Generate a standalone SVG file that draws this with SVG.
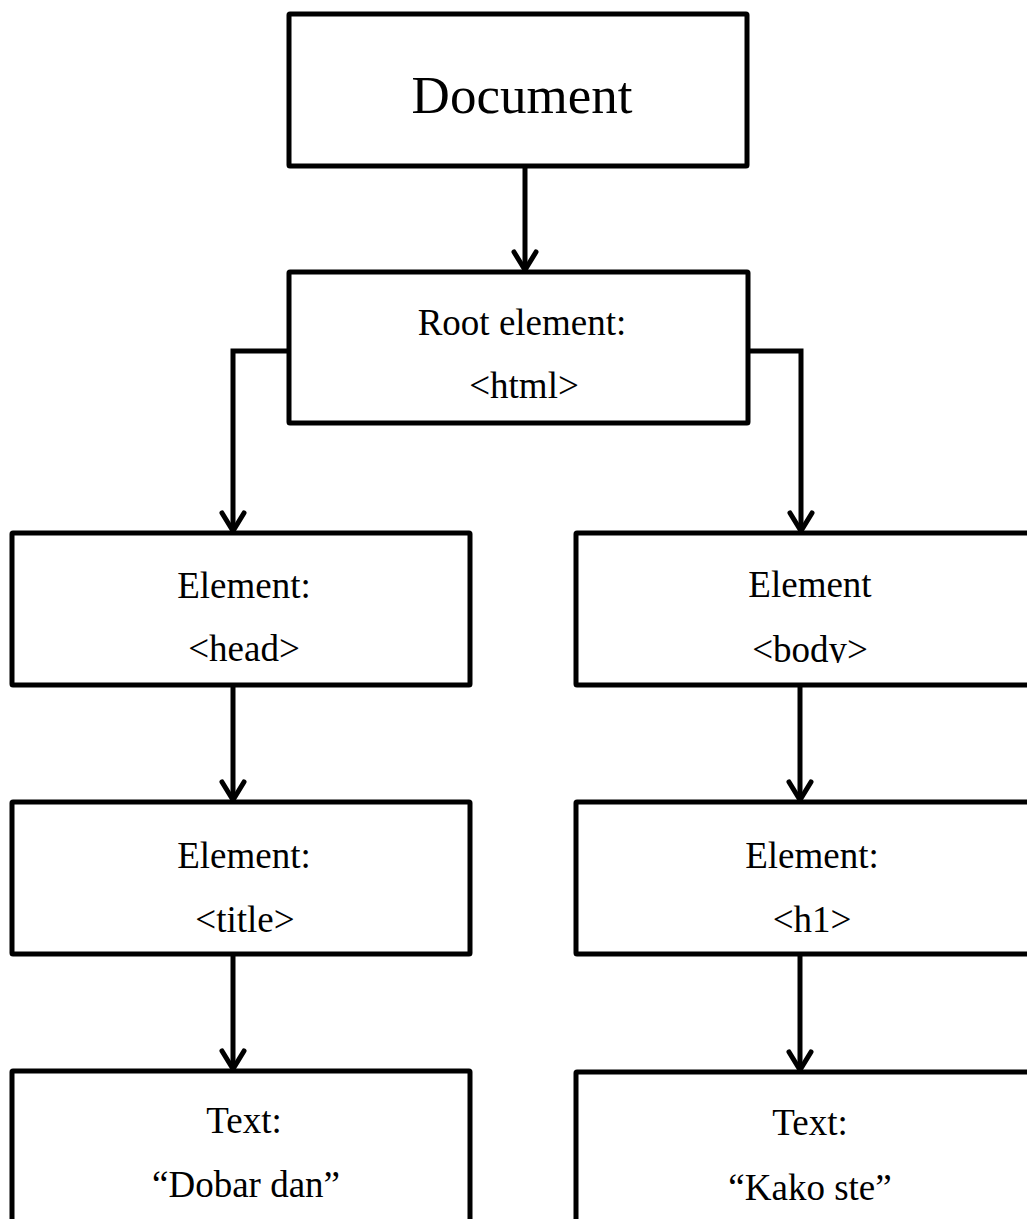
<svg xmlns="http://www.w3.org/2000/svg" width="1027" height="1219" viewBox="0 0 1027 1219">
  <style>
    .box { fill: #ffffff; stroke: #000000; stroke-width: 5; stroke-linejoin: round; }
    .lbl { font-family: "Liberation Serif", "Times New Roman", serif; font-size: 37px; fill: #000000; text-anchor: middle; }
    .big { font-size: 53px; }
    .conn { fill: none; stroke: #000000; stroke-width: 5; stroke-linejoin: miter; marker-end: url(#arr); }
  </style>
  <defs>
    <marker id="arr" markerUnits="userSpaceOnUse" viewBox="-22 -14 26 28" markerWidth="26" markerHeight="28" refX="0" refY="0" orient="auto" overflow="visible">
      <path d="M -18 -11 L 0 0 L -18 11" fill="none" stroke="#000000" stroke-width="5" stroke-linejoin="round" stroke-linecap="round"/>
    </marker>
    <clipPath id="bodyClip">
      <rect x="577" y="535" width="450" height="128"/>
    </clipPath>
  </defs>
  <rect width="1027" height="1219" fill="#ffffff"/>

  <g id="connectors">
    <path class="conn" d="M 525 166 L 525 270"/>
    <path class="conn" d="M 289 351 H 233 V 531"/>
    <path class="conn" d="M 748 351 H 801 V 531"/>
    <path class="conn" d="M 233 685 V 800"/>
    <path class="conn" d="M 800 685 V 800"/>
    <path class="conn" d="M 233 954 V 1069"/>
    <path class="conn" d="M 800 954 V 1070"/>
  </g>

  <g id="document">
    <rect class="box" x="289" y="14" width="458" height="152" rx="1"/>
    <text class="lbl big" x="522" y="113">Document</text>
  </g>

  <g id="root">
    <rect class="box" x="289" y="272" width="459" height="151" rx="1"/>
    <text class="lbl" x="522" y="335">Root element:</text>
    <text class="lbl" x="524" y="398">&lt;html&gt;</text>
  </g>

  <g id="head">
    <rect class="box" x="12" y="533" width="458" height="152" rx="1"/>
    <text class="lbl" x="244" y="598">Element:</text>
    <text class="lbl" x="244" y="661">&lt;head&gt;</text>
  </g>

  <g id="body">
    <rect class="box" x="576" y="533" width="462" height="152" rx="1"/>
    <text class="lbl" x="810" y="597">Element</text>
    <text class="lbl" x="810" y="662" clip-path="url(#bodyClip)">&lt;body&gt;</text>
  </g>

  <g id="title">
    <rect class="box" x="12" y="802" width="458" height="152" rx="1"/>
    <text class="lbl" x="244" y="868">Element:</text>
    <text class="lbl" x="245" y="932">&lt;title&gt;</text>
  </g>

  <g id="h1">
    <rect class="box" x="576" y="802" width="462" height="152" rx="1"/>
    <text class="lbl" x="812" y="868">Element:</text>
    <text class="lbl" x="812" y="932">&lt;h1&gt;</text>
  </g>

  <g id="text-dobar">
    <rect class="box" x="12" y="1071" width="458" height="170" rx="1"/>
    <text class="lbl" x="244" y="1133">Text:</text>
    <text class="lbl" x="246" y="1197">“Dobar dan”</text>
  </g>

  <g id="text-kako">
    <rect class="box" x="576" y="1072" width="462" height="170" rx="1"/>
    <text class="lbl" x="810" y="1135">Text:</text>
    <text class="lbl" x="810" y="1200">“Kako ste”</text>
  </g>
</svg>
